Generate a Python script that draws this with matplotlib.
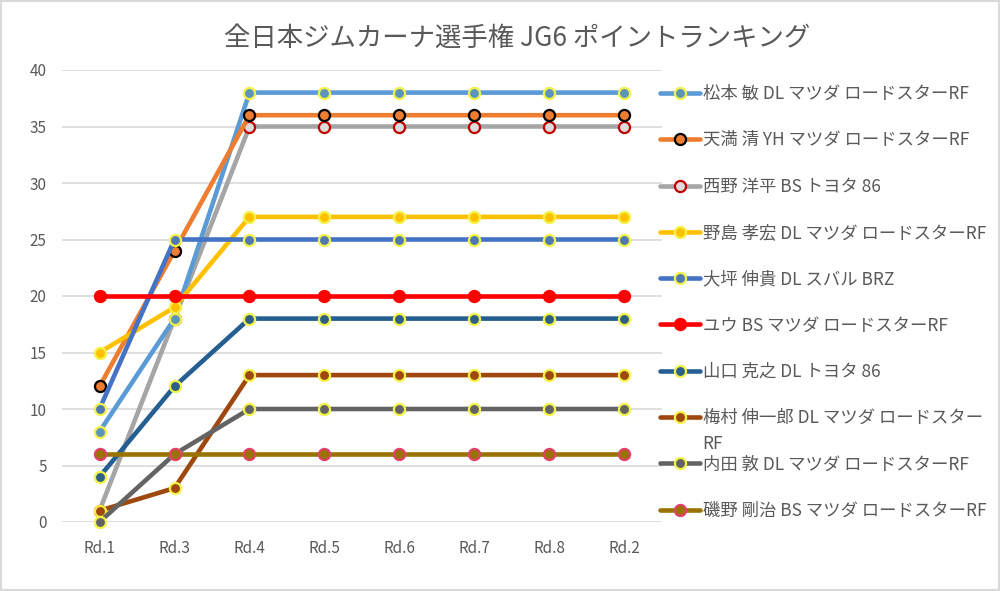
import matplotlib
matplotlib.use("Agg")
import matplotlib.pyplot as plt
from matplotlib.patches import Rectangle

plt.rcParams['font.family'] = ['Noto Sans CJK JP', 'DejaVu Sans']

rounds = ["Rd.1", "Rd.3", "Rd.4", "Rd.5", "Rd.6", "Rd.7", "Rd.8", "Rd.2"]

names = [
    "松本 敏 DL マツダ ロードスターRF",
    "天満 清 YH マツダ ロードスターRF",
    "西野 洋平 BS トヨタ 86",
    "野島 孝宏 DL マツダ ロードスターRF",
    "大坪 伸貴 DL スバル BRZ",
    "ユウ BS マツダ ロードスターRF",
    "山口 克之 DL トヨタ 86",
    "梅村 伸一郎 DL マツダ ロードスターRF",
    "内田 敦 DL マツダ ロードスターRF",
    "磯野 剛治 BS マツダ ロードスターRF",
]

matsumoto = [8, 18, 38, 38, 38, 38, 38, 38]
tenma = [12, 24, 36, 36, 36, 36, 36, 36]
nishino = [1, 18, 35, 35, 35, 35, 35, 35]
nojima = [15, 19, 27, 27, 27, 27, 27, 27]
ohtsubo = [10, 25, 25, 25, 25, 25, 25, 25]
yuu = [20, 20, 20, 20, 20, 20, 20, 20]
yamaguchi = [4, 12, 18, 18, 18, 18, 18, 18]
umemura = [1, 3, 13, 13, 13, 13, 13, 13]
uchida = [0, 6, 10, 10, 10, 10, 10, 10]
isono = [6, 6, 6, 6, 6, 6, 6, 6]

series = [matsumoto, tenma, nishino, nojima, ohtsubo, yuu, yamaguchi, umemura, uchida, isono]

line_colors = ["#5B9BD5", "#ED7D31", "#A5A5A5", "#FFC000", "#4472C4",
               "#FF0000", "#255E91", "#9E480E", "#636363", "#997300"]
face_colors = ["#5D95B8", "#ED7D31", "#DCDCDC", "#FFC000", "#4F79B0",
               "#FF0000", "#2E5F85", "#9E480E", "#636363", "#997300"]
edge_colors = ["#F2F24A", "#000000", "#C00000", "#F2F24A", "#F2F24A",
               "#FF0000", "#F2F24A", "#F2F24A", "#F2F24A", "#E0406A"]

fig = plt.figure(figsize=(10, 5.91), dpi=100)
fig.patches.append(Rectangle((0.001, 0.002), 0.998, 0.996, transform=fig.transFigure,
                             fill=False, edgecolor="#D9D9D9", linewidth=1.5))

ax = fig.add_axes([0.062, (591 - 522) / 591, 0.600, (522 - 70) / 591])

x = list(range(len(rounds)))
handles = []
for i, (vals, name) in enumerate(zip(series, names)):
    z = 3 + i * 0.1 if i != 2 else 2.5
    ln, = ax.plot(x, vals, color=line_colors[i], lw=3.3, marker='o', markersize=8,
                  markerfacecolor=face_colors[i], markeredgecolor=edge_colors[i],
                  markeredgewidth=1.6, clip_on=False, zorder=z, solid_capstyle='round')
    handles.append(ln)

ax.set_xlim(-0.5, len(rounds) - 0.5)
ax.set_ylim(0, 40)
ax.set_yticks(range(0, 41, 5))
ax.set_xticks(x)
ax.set_xticklabels(rounds)
ax.grid(axis='y', color="#D9D9D9", lw=1.2, zorder=0)
for s in ax.spines.values():
    s.set_visible(False)
ax.tick_params(length=0, labelsize=11, colors="#595959")
ax.tick_params(axis='x', pad=13)
ax.tick_params(axis='y', pad=11)
ax.set_axisbelow(True)

fig.text(0.517, 1 - 38 / 591, "全日本ジムカーナ選手権 JG6 ポイントランキング",
         ha='center', va='center', fontsize=19, color="#595959")

leg_labels = list(names)
leg_labels[7] = "梅村 伸一郎 DL マツダ ロードスター"
leg = fig.legend(handles, leg_labels, loc='upper left',
                 bbox_to_anchor=(0.660, 1 - 85 / 591), frameon=False,
                 fontsize=12.5, labelcolor="#595959", handlelength=2.3,
                 handletextpad=0.15, labelspacing=1.63, borderpad=0, borderaxespad=0)

fig.canvas.draw()
t = leg.get_texts()[7]
bb = t.get_window_extent()
fig.text(bb.x0 / 1000, (bb.y0 - 8) / 591, "RF", ha='left', va='top',
         fontsize=12.5, color="#595959")

fig.savefig("out.png", dpi=100)
